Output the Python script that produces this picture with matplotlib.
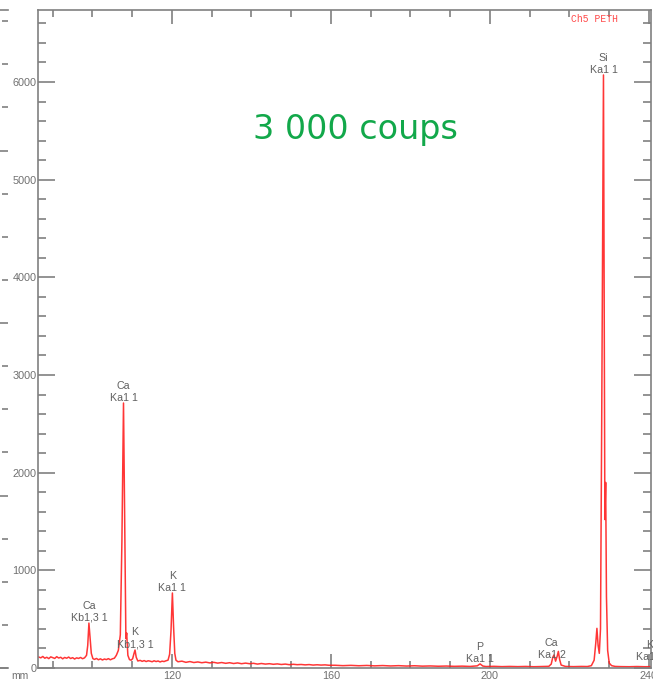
import matplotlib
matplotlib.use("Agg")
import matplotlib.pyplot as plt
from matplotlib.ticker import MultipleLocator

# spectrometer position (mm) and counts, channel 5 / PETH crystal
position_mm = [
    86.5, 87.0, 87.5, 88.0, 88.5, 89.0, 89.5, 90.0, 90.5, 91.0, 91.5, 92.0,
    92.5, 93.0, 93.5, 94.0, 94.5, 95.0, 95.5, 96.0, 96.5, 97.0, 97.5, 98.0,
    98.5, 98.8, 99.1, 99.4, 99.7, 100.1,
    100.5, 101.0, 101.5, 102.0, 102.5, 103.0, 103.5, 104.0, 104.5, 105.0, 105.5,
    106.0, 106.5, 107.0, 107.4, 107.8, 108.1, 108.4, 108.6, 108.9, 109.3, 109.7,
    110.1, 110.45, 110.7, 111.0, 111.4,
    112.0, 112.5, 113.0, 113.5, 114.0, 114.5, 115.0, 115.5, 116.0, 116.5, 117.0,
    117.5, 118.0, 118.5, 119.0,
    119.4, 119.75, 120.1, 120.4, 120.7, 121.0,
    121.5, 122.5, 123.5, 124.5, 125.5, 126.5, 127.5, 128.5, 129.5, 130.5, 131.5,
    132.5, 133.5, 134.5, 135.5, 136.5, 137.5, 138.5, 139.5, 140.5, 141.5, 142.5,
    143.5, 144.5, 145.5, 146.5, 147.5, 148.5, 149.5, 150.5, 151.5, 152.5, 153.5,
    154.5, 155.5, 156.5, 157.5, 158.5, 159.5,
    161, 163, 165, 167, 169, 171, 173, 175, 177, 179, 181, 183, 185, 187, 189,
    191, 193, 195,
    196.8, 197.5, 198.2,
    199, 201, 203, 205, 207, 209, 211, 213, 214.8,
    215.4, 215.8, 216.1, 216.5, 216.9, 217.2, 217.5, 217.9,
    219, 221, 223, 224.5, 225.5,
    226.2, 226.6, 226.9, 227.2, 227.5, 227.8, 228.1, 228.55, 228.9, 229.1,
    229.3, 229.6, 230.0, 230.6,
    231.5, 233, 235, 237, 239, 240.5,
]
counts = [
    112, 104, 118, 100, 110, 96, 114, 106, 98, 116, 102, 110,
    94, 108, 100, 112, 97, 106, 92, 104, 98, 108, 95, 104,
    130, 230, 460, 300, 150, 96,
    88, 98, 84, 94, 82, 92, 86, 96, 84, 94, 100,
    130, 180, 340, 1300, 2713, 1500, 300, 358, 130, 86, 80,
    95, 150, 184, 110, 72,
    78, 68, 76, 66, 74, 70, 64, 74, 66, 72, 62,
    70, 66, 74, 80,
    140, 380, 768, 420, 150, 80,
    64, 70, 58, 66, 56, 62, 54, 60, 52, 58, 50,
    56, 48, 54, 46, 52, 44, 50, 44, 48, 40, 46,
    40, 44, 38, 42, 36, 40, 34, 38, 34, 36, 32,
    35, 30, 33, 30, 32, 28,
    28, 24, 27, 23, 26, 22, 25, 21, 24, 20, 23, 19, 21, 18, 20,
    17, 19, 16,
    22, 42, 20,
    15, 17, 14, 16, 14, 16, 13, 15, 17,
    40, 110, 133, 70, 120, 170, 90, 30,
    16, 14, 16, 15, 24,
    80, 250, 406, 230, 150, 400, 2500, 6072, 1520, 1900,
    730, 180, 50, 24,
    16, 14, 13, 15, 13, 14,
]

# line identifications: element, line, position (mm), height of the label
peak_names = ["Ca\nKb1,3 1", "Ca\nKa1 1", "K\nKb1,3 1", "K\nKa1 1",
              "P\nKa1 1", "Ca\nKa1 2", "Si\nKa1 1", "K\nKa1 2"]
peak_pos = [99.1, 107.8, 110.7, 120.1, 197.5, 215.5, 228.55, 240.2]
peak_height = [460, 2713, 190, 768, 40, 80, 6072, 60]

grey = "#808080"
label_grey = "#606060"

fig = plt.figure(figsize=(6.53, 6.83), dpi=100)

# edge of the neighbouring panel on the left
ax_prev = fig.add_axes([-0.2, 15 / 683, 0.2 + 8 / 653, 658 / 683])
ax_prev.set_xlim(0, 1)
ax_prev.set_ylim(0, 15.26)
for side in ["left", "right"]:
    ax_prev.spines[side].set_visible(False)
for side in ["top", "bottom"]:
    ax_prev.spines[side].set_color(grey)
    ax_prev.spines[side].set_linewidth(1.2)
ax_prev.set_xticks([])
ax_prev.yaxis.set_major_locator(MultipleLocator(4))
ax_prev.yaxis.set_minor_locator(MultipleLocator(1))
ax_prev.tick_params(axis="y", which="both", left=False, right=True,
                    labelleft=False, direction="in", color=grey, width=1.2)
ax_prev.tick_params(axis="y", which="major", length=8)
ax_prev.tick_params(axis="y", which="minor", length=4)

ax = fig.add_axes([38 / 653, 15 / 683, 612.5 / 653, 658 / 683])
ax.plot(position_mm, counts, color="#ff2020", lw=1.1, alpha=0.9)
ax.set_xlim(86.29, 240.38)
ax.set_ylim(0, 6737)

for side in ax.spines.values():
    side.set_color(grey)
    side.set_linewidth(1.2)

ax.xaxis.set_major_locator(MultipleLocator(40))
ax.xaxis.set_minor_locator(MultipleLocator(10))
ax.yaxis.set_major_locator(MultipleLocator(1000))
ax.yaxis.set_minor_locator(MultipleLocator(200))
ax.tick_params(which="both", direction="in", top=True, right=True,
               color=grey, width=1.2, labelcolor="#707070",
               labelsize=7.8)
ax.tick_params(axis="x", which="major", length=10, pad=2)
ax.tick_params(axis="x", which="minor", length=5)
ax.tick_params(axis="y", which="major", length=12, pad=1)
ax.tick_params(axis="y", which="minor", length=6)
for lab in ax.get_xticklabels() + ax.get_yticklabels():
    lab.set_family("Liberation Sans")
for lab in ax.get_xticklabels():
    lab.set_clip_on(False)

for name, x, h in zip(peak_names, peak_pos, peak_height):
    ax.annotate(name, (x, h), xytext=(0, 1.5), textcoords="offset points",
                ha="center", va="baseline", fontsize=7.7,
                family="Liberation Sans", color=label_grey,
                linespacing=1.25, annotation_clip=False)

ax.text(0.909, 0.986, "Ch5 PETH", transform=ax.transAxes, ha="center",
        va="center", fontsize=7, family="Liberation Mono",
        color="#ff4a4a")
ax.text(0.5175, 0.818, "3 000 coups", transform=ax.transAxes,
        ha="center", va="center", fontsize=24, color="#12a84a")
fig.text(20 / 653, 1 - 676 / 683, "mm", ha="center", va="center",
         fontsize=7.5, family="Liberation Sans", color="#707070")

fig.savefig("out.png", dpi=100)
